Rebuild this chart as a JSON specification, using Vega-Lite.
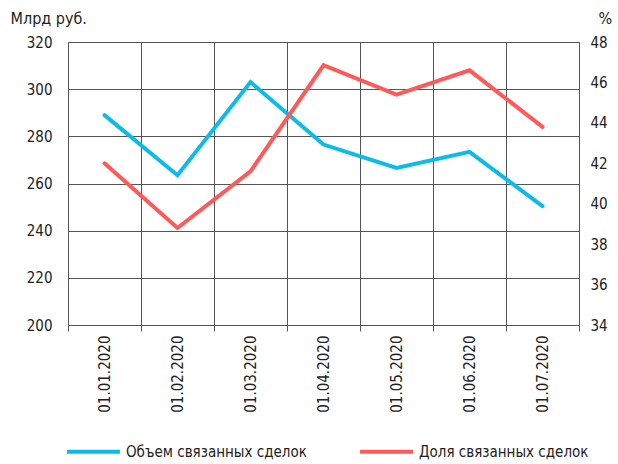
{
  "$schema": "https://vega.github.io/schema/vega-lite/v6.json",
  "width": 511,
  "height": 283,
  "autosize": {"type": "none"},
  "padding": {"left": 68, "top": 42, "right": 39, "bottom": 139},
  "background": "white",
  "config": {
    "font": "DejaVu Sans Condensed, Liberation Sans",
    "view": {"stroke": "#555", "strokeWidth": 1},
    "axis": {"labelFont": "DejaVu Sans Condensed, Liberation Sans", "labelFontSize": 15, "labelColor": "#222", "titleFont": "DejaVu Sans Condensed, Liberation Sans", "titleColor": "#222"},
    "legend": {"labelFont": "DejaVu Sans Condensed, Liberation Sans", "labelFontSize": 15, "labelColor": "#222", "labelLimit": 400}
  },
  "data": {
    "values": [
      {"date": "01.01.2020", "volume": 289.0, "share": 42.0},
      {"date": "01.02.2020", "volume": 263.5, "share": 38.8},
      {"date": "01.03.2020", "volume": 303.0, "share": 41.6},
      {"date": "01.04.2020", "volume": 276.5, "share": 46.85},
      {"date": "01.05.2020", "volume": 266.6, "share": 45.4},
      {"date": "01.06.2020", "volume": 273.4, "share": 46.6},
      {"date": "01.07.2020", "volume": 250.4, "share": 43.8}
    ]
  },
  "encoding": {
    "x": {
      "field": "date",
      "type": "ordinal",
      "sort": null,
      "scale": {"paddingInner": 0, "paddingOuter": 0},
      "axis": {
        "title": null,
        "labelAngle": -90,
        "tickBand": "extent",
        "grid": true,
        "gridColor": "#555",
        "gridOpacity": 1,
        "domain": false,
        "tickColor": "#555",
        "tickSize": 6,
        "labelPadding": 4
      }
    }
  },
  "layer": [
    {
      "mark": {"type": "line", "strokeWidth": 4, "strokeCap": "round", "strokeJoin": "miter"},
      "encoding": {
        "y": {
          "field": "volume",
          "type": "quantitative",
          "scale": {"domain": [200, 320], "nice": false, "zero": false},
          "axis": {
            "orient": "left",
            "values": [200, 220, 240, 260, 280, 300, 320],
            "grid": true,
            "gridColor": "#555",
            "gridOpacity": 1,
            "domain": false,
            "ticks": false,
            "labelPadding": 16,
            "title": "Млрд руб.",
            "titleAngle": 0,
            "titleX": -58,
            "titleY": -24,
            "titleAlign": "left",
            "titleBaseline": "middle",
            "titleFontWeight": "normal",
            "titleFontSize": 16
          }
        },
        "color": {
          "datum": "Объем связанных сделок",
          "type": "nominal",
          "scale": {"domain": ["Объем связанных сделок", "Доля связанных сделок"], "range": ["#0DBBEA", "#FF5A5A"]},
          "legend": {
            "title": null,
            "orient": "none",
            "direction": "horizontal",
            "legendX": -3,
            "legendY": 381,
            "symbolType": "stroke",
            "symbolSize": 2800,
            "symbolStrokeWidth": 4,
            "labelOffset": 4,
            "columnPadding": 45,
            "labelLimit": 400
          }
        }
      }
    },
    {
      "mark": {"type": "line", "strokeWidth": 4, "strokeCap": "round", "strokeJoin": "miter"},
      "encoding": {
        "y": {
          "field": "share",
          "type": "quantitative",
          "scale": {"domain": [34, 48], "nice": false, "zero": false},
          "axis": {
            "orient": "right",
            "values": [34, 36, 38, 40, 42, 44, 46, 48],
            "grid": false,
            "domain": false,
            "ticks": false,
            "labelPadding": 11,
            "title": "%",
            "titleAngle": 0,
            "titleX": 19,
            "titleY": -24,
            "titleAlign": "left",
            "titleBaseline": "middle",
            "titleFontWeight": "normal",
            "titleFontSize": 16
          }
        },
        "color": {"datum": "Доля связанных сделок", "type": "nominal"}
      }
    }
  ],
  "resolve": {"scale": {"y": "independent"}}
}
